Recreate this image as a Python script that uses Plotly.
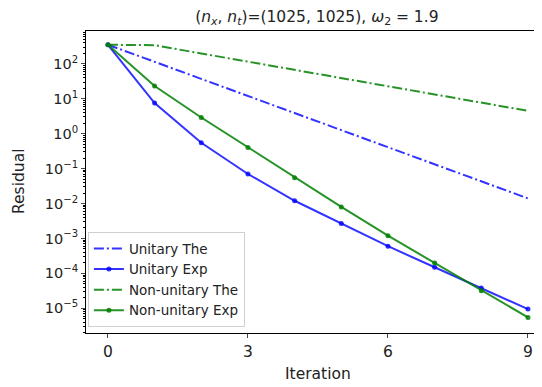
import plotly.graph_objects as go

iterations = [0, 1, 2, 3, 4, 5, 6, 7, 8, 9]
unitary_the = [350, 114, 37, 12, 3.9, 1.26, 0.41, 0.133, 0.043, 0.014]
unitary_exp = [350, 7.5, 0.55, 0.07, 0.012, 0.0027, 0.0006, 0.00015, 3.8e-5, 9.5e-6]
nonunitary_the = [350, 340, 197, 115, 67, 39, 22.6, 13.2, 7.7, 4.5]
nonunitary_exp = [350, 23, 2.9, 0.4, 0.055, 0.008, 0.0012, 0.0002, 3.2e-5, 5.5e-6]

ytick_vals = [1e-5, 1e-4, 1e-3, 1e-2, 1e-1, 1e0, 1e1, 1e2]
ytick_text = ["10<sup>\u22125</sup>", "10<sup>\u22124</sup>", "10<sup>\u22123</sup>", "10<sup>\u22122</sup>",
              "10<sup>\u22121</sup>", "10<sup>0</sup>", "10<sup>1</sup>", "10<sup>2</sup>"]
xtick_vals = [0, 3, 6, 9]
minor_yticks = [m * 10.0 ** e for e in range(-6, 3) for m in range(2, 10)]

blue = "rgba(0,0,255,0.8)"
green = "rgba(0,128,0,0.85)"
dashdot = "10px,3px,2px,3px"
txt = "#222"

fig = go.Figure()
fig.add_trace(go.Scatter(x=iterations, y=unitary_the, mode="lines", name="Unitary The",
                         line=dict(color=blue, width=2, dash=dashdot)))
fig.add_trace(go.Scatter(x=iterations, y=unitary_exp, mode="lines+markers", name="Unitary Exp",
                         line=dict(color=blue, width=2), marker=dict(size=5, color=blue)))
fig.add_trace(go.Scatter(x=iterations, y=nonunitary_the, mode="lines", name="Non-unitary The",
                         line=dict(color=green, width=2, dash=dashdot)))
fig.add_trace(go.Scatter(x=iterations, y=nonunitary_exp, mode="lines+markers", name="Non-unitary Exp",
                         line=dict(color=green, width=2), marker=dict(size=5, color=green)))

fig.update_layout(
    width=560, height=379,
    margin=dict(l=78, r=8, t=23, b=54),
    paper_bgcolor="white", plot_bgcolor="white",
    font=dict(family="DejaVu Sans", size=15, color=txt),
    title=dict(text="(<i>n</i><sub><i>x</i></sub>, <i>n</i><sub><i>t</i></sub>)=(1025, 1025), <i>\u03c9</i><sub>2</sub> = 1.9",
               x=0.487, xanchor="center", xref="paper", y=0.978, yanchor="middle",
               font=dict(size=15.5, color=txt)),
    showlegend=True,
    legend=dict(x=0.004, y=0.019, xanchor="left", yanchor="bottom",
                bgcolor="rgba(255,255,255,0.8)", bordercolor="#d0d0d0", borderwidth=1,
                font=dict(size=13.5, color=txt), tracegroupgap=0, itemwidth=30),
    annotations=[
        dict(text="Residual", xref="paper", yref="paper", x=0, y=0.5, xshift=-67,
             xanchor="center", yanchor="middle", textangle=-90, showarrow=False,
             font=dict(size=15.5, color=txt)),
        dict(text="Iteration", xref="x", yref="paper", x=4.5, y=0, yshift=-41,
             xanchor="center", yanchor="middle", showarrow=False,
             font=dict(size=15.5, color=txt)),
    ],
)
fig.update_xaxes(range=[-0.47, 9.686], tickvals=xtick_vals, ticks="outside", ticklen=4,
                 showgrid=False, zeroline=False, showline=True, linecolor="black", linewidth=1,
                 mirror=True, automargin=False, tickfont=dict(size=15.5))
fig.update_yaxes(type="log", range=[-5.706, 2.938], tickvals=ytick_vals, ticktext=ytick_text,
                 ticks="outside", ticklen=4, showgrid=False, zeroline=False, showline=True,
                 linecolor="black", linewidth=1, mirror=True, automargin=False,
                 minor=dict(ticks="outside", ticklen=2, showgrid=False, tickvals=minor_yticks,
                            tickcolor="black", tickwidth=0.8),
                 tickfont=dict(size=14.5))

fig.write_html("out.html")
